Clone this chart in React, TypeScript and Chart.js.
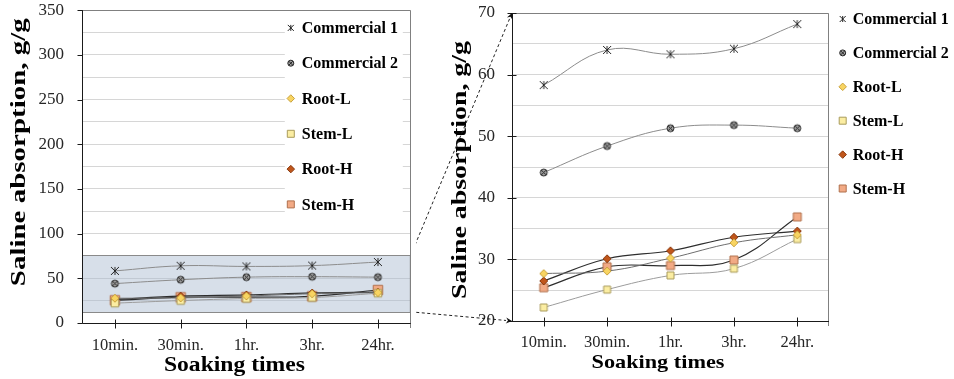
import React, { useEffect, useRef } from 'react';
import { Chart, registerables } from 'chart.js';

Chart.register(...registerables);

const SERIF = '"Liberation Serif", "Times New Roman", "DejaVu Serif", serif';

// ---------- data ----------
const categories = ['10min.', '30min.', '1hr.', '3hr.', '24hr.'];
const seriesNames = ['Commercial 1', 'Commercial 2', 'Root-L', 'Stem-L', 'Root-H', 'Stem-H'];
const commercial1 = [58.3, 64.0, 63.3, 64.2, 68.2];
const commercial2 = [44.1, 48.4, 51.3, 51.8, 51.3];
const rootL = [27.7, 28.1, 30.2, 32.7, 34.0];
const stemL = [22.2, 25.1, 27.4, 28.5, 33.3];
const rootH = [26.5, 30.1, 31.4, 33.6, 34.6];
const stemH = [25.4, 28.8, 29.0, 29.9, 36.9];
const leftYTicks = [0, 50, 100, 150, 200, 250, 300, 350];
const rightYTicks = [20, 30, 40, 50, 60, 70];
const zoomBox = [12.5, 76];
const yTitle = 'Saline absorption, g/g';
const xTitle = 'Soaking times';

const seriesValues = [commercial1, commercial2, rootL, stemL, rootH, stemH];

// ---------- styles ----------
type Kind = 'asterisk' | 'circlex' | 'diamond' | 'square';
const seriesStyles: { kind: Kind; fill: string; stroke: string; line: string; lw: number; size: number; legendSize: number }[] = [
  { kind: 'asterisk', fill: '#222', stroke: '#222', line: '#8c8c8c', lw: 1, size: 8, legendSize: 6 },
  { kind: 'circlex', fill: '#a0a0a0', stroke: '#262626', line: '#8c8c8c', lw: 1, size: 7, legendSize: 6 },
  { kind: 'diamond', fill: '#f8d462', stroke: '#c9a23c', line: '#6e6e6e', lw: 1, size: 8, legendSize: 7.5 },
  { kind: 'square', fill: '#fbeda2', stroke: '#a99b5c', line: '#9c9c9c', lw: 1, size: 7, legendSize: 7 },
  { kind: 'diamond', fill: '#c0561b', stroke: '#8a3a10', line: '#2e2e2e', lw: 1.2, size: 8, legendSize: 7.5 },
  { kind: 'square', fill: '#f2aa85', stroke: '#b0704d', line: '#2e2e2e', lw: 1.2, size: 8, legendSize: 7 },
];

function drawMarker(ctx: CanvasRenderingContext2D, kind: Kind, x: number, y: number, size: number, fill: string, stroke: string) {
  const r = size / 2;
  ctx.save();
  ctx.lineWidth = 1;
  ctx.strokeStyle = stroke;
  ctx.fillStyle = fill;
  ctx.beginPath();
  if (kind === 'asterisk') {
    ctx.moveTo(x - r, y - r); ctx.lineTo(x + r, y + r);
    ctx.moveTo(x - r, y + r); ctx.lineTo(x + r, y - r);
    ctx.moveTo(x, y - r); ctx.lineTo(x, y + r);
    ctx.stroke();
  } else if (kind === 'circlex') {
    ctx.arc(x, y, r, 0, Math.PI * 2);
    ctx.fill(); ctx.stroke();
    const d = r * 0.68;
    ctx.beginPath();
    ctx.moveTo(x - d, y - d); ctx.lineTo(x + d, y + d);
    ctx.moveTo(x - d, y + d); ctx.lineTo(x + d, y - d);
    ctx.stroke();
  } else if (kind === 'diamond') {
    ctx.moveTo(x, y - r); ctx.lineTo(x + r, y); ctx.lineTo(x, y + r); ctx.lineTo(x - r, y); ctx.closePath();
    ctx.fill(); ctx.stroke();
  } else {
    ctx.rect(x - r, y - r, size, size);
    ctx.fill(); ctx.stroke();
  }
  ctx.restore();
}

function markerCanvas(i: number, size: number) {
  const s = seriesStyles[i];
  const c = document.createElement('canvas');
  const dim = Math.ceil(size) + 4;
  c.width = dim; c.height = dim;
  drawMarker(c.getContext('2d')!, s.kind, dim / 2, dim / 2, size, s.fill, s.stroke);
  return c;
}

function makeDatasets(sizeBoost: number[]) {
  return seriesValues.map((d, i) => ({
    label: seriesNames[i],
    data: d,
    borderColor: seriesStyles[i].line,
    borderWidth: seriesStyles[i].lw,
    backgroundColor: seriesStyles[i].fill,
    pointStyle: markerCanvas(i, seriesStyles[i].size + (sizeBoost[i] || 0)),
    pointRadius: 4,
    tension: 0.4,
    fill: false,
  }));
}

function drawStretched(ctx: CanvasRenderingContext2D, text: string, cx: number, cy: number, font: string, target: number, rotate: boolean) {
  ctx.save();
  ctx.font = font;
  ctx.fillStyle = '#000';
  ctx.textAlign = 'center';
  ctx.textBaseline = 'middle';
  const w = ctx.measureText(text).width;
  ctx.translate(cx, cy);
  if (rotate) ctx.rotate(-Math.PI / 2);
  ctx.scale(target / w, 1);
  ctx.fillText(text, 0, 0);
  ctx.restore();
}

function drawLegend(ctx: CanvasRenderingContext2D, xm: number, xt: number, y0: number, dy: number) {
  ctx.save();
  ctx.font = `bold 16px ${SERIF}`;
  ctx.fillStyle = '#000';
  ctx.textAlign = 'left';
  ctx.textBaseline = 'middle';
  seriesNames.forEach((n, i) => {
    const y = y0 + i * dy;
    const s = seriesStyles[i];
    drawMarker(ctx, s.kind, xm, y, s.legendSize, s.fill, s.stroke);
    ctx.fillText(n, xt, y + 1);
  });
  ctx.restore();
}

function drawFrame(chart: any, yTicks: number[], inLen: number) {
  const { ctx, chartArea: a, scales } = chart;
  const x = scales.x, y = scales.y;
  ctx.save();
  ctx.lineWidth = 1;
  ctx.strokeStyle = '#808080';
  ctx.beginPath();
  ctx.moveTo(a.left, Math.round(a.top) + 0.5);
  ctx.lineTo(Math.round(a.right) - 0.5, Math.round(a.top) + 0.5);
  ctx.lineTo(Math.round(a.right) - 0.5, a.bottom + 5);
  ctx.stroke();
  ctx.strokeStyle = '#1a1a1a';
  ctx.beginPath();
  const lx = Math.round(a.left) + 0.5;
  const by = Math.round(a.bottom) + 0.5;
  ctx.moveTo(lx, a.top);
  ctx.lineTo(lx, by);
  ctx.lineTo(a.right, by);
  yTicks.forEach((v) => {
    const py = Math.round(y.getPixelForValue(v)) + 0.5;
    ctx.moveTo(lx - 5, py); ctx.lineTo(lx + inLen, py);
  });
  categories.forEach((_, i) => {
    const px = Math.round(x.getPixelForValue(i)) + 0.5;
    ctx.moveTo(px, by - 4); ctx.lineTo(px, by + 5);
  });
  ctx.stroke();
  ctx.restore();
}

function dashedArrow(ctx: CanvasRenderingContext2D, x1: number, y1: number, x2: number, y2: number) {
  const ang = Math.atan2(y2 - y1, x2 - x1);
  const L = 6, W = 3;
  const ex = x2 - Math.cos(ang) * L, ey = y2 - Math.sin(ang) * L;
  ctx.save();
  ctx.strokeStyle = '#222';
  ctx.fillStyle = '#111';
  ctx.lineWidth = 1;
  ctx.setLineDash([3, 2.5]);
  ctx.beginPath();
  ctx.moveTo(x1, y1); ctx.lineTo(ex, ey);
  ctx.stroke();
  ctx.setLineDash([]);
  ctx.beginPath();
  ctx.moveTo(x2, y2);
  ctx.lineTo(ex - Math.sin(ang) * W, ey + Math.cos(ang) * W);
  ctx.lineTo(ex + Math.cos(ang) * 2, ey + Math.sin(ang) * 2);
  ctx.lineTo(ex + Math.sin(ang) * W, ey - Math.cos(ang) * W);
  ctx.closePath();
  ctx.fill();
  ctx.restore();
}

const LEFT_W = 416;
const RIGHT_W = 538;
const H = 379;

function scaleOpts(min: number, max: number, step: number, labelStep: number, yWidth: number, xHeight: number, xPad: number, yPad: number) {
  return {
    x: {
      type: 'category' as const,
      offset: true,
      grid: { display: false, drawTicks: false, tickLength: 0 },
      border: { display: false },
      ticks: { font: { family: SERIF, size: 16.5 }, color: '#262626', padding: xPad, maxRotation: 0, autoSkip: false },
      afterFit: (s: any) => { s.height = xHeight; },
    },
    y: {
      type: 'linear' as const,
      min, max,
      grid: { color: '#d6d6d6', lineWidth: 1, drawTicks: true, tickLength: yPad, tickColor: 'rgba(0,0,0,0)' },
      border: { display: false },
      ticks: {
        stepSize: step,
        autoSkip: false,
        font: { family: SERIF, size: 17 },
        color: '#262626',
        padding: 0,
        callback: (v: any) => (Math.abs(v % labelStep) < 1e-9 ? String(v) : ''),
      },
      afterFit: (s: any) => { s.width = yWidth; },
    },
  };
}

export default function App() {
  const leftRef = useRef<HTMLCanvasElement>(null);
  const rightRef = useRef<HTMLCanvasElement>(null);

  useEffect(() => {
    const link = { x: 0, yTop: 0, yBot: 0 };

    const leftPlugin = {
      id: 'leftDecor',
      beforeDatasetsDraw(chart: any) {
        const { ctx, chartArea: a, scales } = chart;
        const y = scales.y;
        const t = Math.round(y.getPixelForValue(zoomBox[1]));
        const b = Math.round(y.getPixelForValue(zoomBox[0]));
        ctx.save();
        ctx.fillStyle = 'rgba(168,185,207,0.46)';
        ctx.fillRect(a.left, t, a.right - a.left, b - t);
        ctx.strokeStyle = '#8a8a8a';
        ctx.lineWidth = 1;
        ctx.strokeRect(a.left + 0.5, t + 0.5, a.right - a.left - 1, b - t);
        ctx.fillStyle = '#ffffff';
        ctx.fillRect(a.right - 126, a.top + 1.5, 118, 209);
        ctx.restore();
      },
      afterDraw(chart: any) {
        const { ctx, chartArea: a } = chart;
        drawFrame(chart, leftYTicks, 0);
        drawLegend(ctx, a.right - 120, a.right - 109, a.top + 17.7, 35.3);
        drawStretched(ctx, yTitle, a.left - 63, a.top + 142, `bold 22px ${SERIF}`, 268, true);
        drawStretched(ctx, xTitle, (a.left + a.right) / 2 - 12, a.bottom + 43, `bold 20px ${SERIF}`, 141, false);
      },
    };

    const rightPlugin = {
      id: 'rightDecor',
      afterDraw(chart: any) {
        const { ctx, chartArea: a } = chart;
        drawFrame(chart, rightYTicks, 4);
        drawLegend(ctx, a.right + 13.7, a.right + 23.7, a.top + 6, 33.9);
        drawStretched(ctx, yTitle, a.left - 52, a.top + 157, `bold 22px ${SERIF}`, 258, true);
        drawStretched(ctx, xTitle, (a.left + a.right) / 2 - 12.5, a.bottom + 42, `bold 19px ${SERIF}`, 133, false);
        dashedArrow(ctx, link.x, link.yTop, a.left, a.top);
        dashedArrow(ctx, link.x, link.yBot, a.left, a.bottom);
      },
    };

    const left = new Chart(leftRef.current!, {
      type: 'line',
      data: { labels: categories, datasets: makeDatasets([0, 0, 0, 0.5, 0, 1.5]) as any },
      options: {
        responsive: false,
        animation: false,
        devicePixelRatio: 1,
        layout: { padding: { left: 0, right: 1, top: 10, bottom: 0 } },
        plugins: { legend: { display: false }, tooltip: { enabled: false } },
        scales: scaleOpts(leftYTicks[0], leftYTicks[leftYTicks.length - 1], 25, 50, 82, 56, 13, 18) as any,
      },
      plugins: [leftPlugin],
    });

    const la = left.chartArea;
    link.x = la.right - LEFT_W;
    link.yTop = left.scales.y.getPixelForValue(zoomBox[1]);
    link.yBot = left.scales.y.getPixelForValue(zoomBox[0]);

    const right = new Chart(rightRef.current!, {
      type: 'line',
      data: { labels: categories, datasets: makeDatasets([0, 0, 0, 0, 0, 0]) as any },
      options: {
        responsive: false,
        animation: false,
        devicePixelRatio: 1,
        layout: { padding: { left: 0, right: RIGHT_W - 413, top: 13, bottom: 0 } },
        plugins: { legend: { display: false }, tooltip: { enabled: false } },
        scales: scaleOpts(rightYTicks[0], rightYTicks[rightYTicks.length - 1], 5, 10, 96, H - 321, 12, 17) as any,
      },
      plugins: [rightPlugin],
    });

    return () => {
      left.destroy();
      right.destroy();
    };
  }, []);

  return (
    <div style={{ position: 'absolute', left: 0, top: 0, width: 954, height: H, background: '#fff', overflow: 'hidden' }}>
      <canvas ref={leftRef} width={LEFT_W} height={H} style={{ position: 'absolute', left: 0, top: 0, width: LEFT_W, height: H }} />
      <canvas ref={rightRef} width={RIGHT_W} height={H} style={{ position: 'absolute', left: LEFT_W, top: 0, width: RIGHT_W, height: H }} />
    </div>
  );
}
